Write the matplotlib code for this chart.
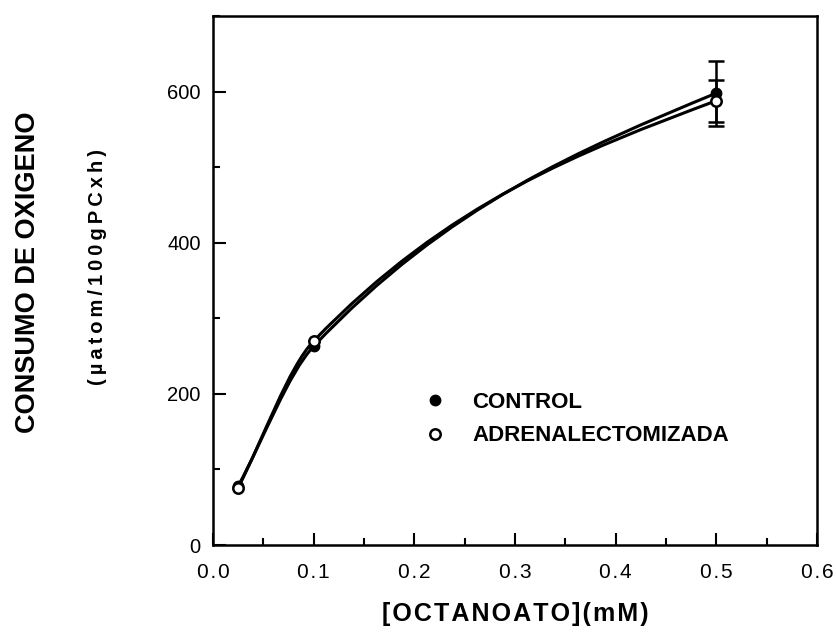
import numpy as np
import matplotlib
matplotlib.use("Agg")
import matplotlib.pyplot as plt
from matplotlib.path import Path
from matplotlib.patches import PathPatch
from matplotlib.lines import Line2D
from matplotlib.ticker import MultipleLocator, FuncFormatter

plt.rcParams["font.family"] = ["Liberation Sans", "DejaVu Sans"]

# data
octanoato = [0.025, 0.1, 0.5]
control = [78, 263, 598]
control_err = [0, 0, 43]
adrenal = [76, 270, 588]
adrenal_err = [0, 0, 28]


def spaced(s, gap="\u200a"):
    return gap.join(s)


def smooth_path(x, y):
    # cubic Hermite through the points (harmonic-mean tangents inside)
    x = np.asarray(x, float)
    y = np.asarray(y, float)
    h = np.diff(x)
    d = np.diff(y) / h
    m = np.zeros_like(y)
    for k in range(1, len(x) - 1):
        w1 = 2 * h[k] + h[k - 1]
        w2 = h[k] + 2 * h[k - 1]
        m[k] = (w1 + w2) / (w1 / d[k - 1] + w2 / d[k])
    m[0] = d[0]
    m[-1] = (3 * d[-1] - m[-2]) / 2
    verts = [(x[0], y[0])]
    codes = [Path.MOVETO]
    for k in range(len(x) - 1):
        verts += [(x[k] + h[k] / 3, y[k] + m[k] * h[k] / 3),
                  (x[k + 1] - h[k] / 3, y[k + 1] - m[k + 1] * h[k] / 3),
                  (x[k + 1], y[k + 1])]
        codes += [Path.CURVE4] * 3
    return Path(verts, codes)


fig = plt.figure(figsize=(8.37, 6.43), dpi=100)
ax = fig.add_axes([0.2545, 0.1524, 0.976 - 0.2545, 0.975 - 0.1524])

for ys in (control, adrenal):
    ax.add_patch(PathPatch(smooth_path(octanoato, ys), fill=False,
                           edgecolor="black", lw=2.2, zorder=2))

for ys, err in ((control, control_err), (adrenal, adrenal_err)):
    idx = [i for i, e in enumerate(err) if e > 0]
    ax.errorbar([octanoato[i] for i in idx], [ys[i] for i in idx],
                yerr=[err[i] for i in idx], fmt="none", ecolor="black",
                elinewidth=1.8, capsize=6, capthick=1.8, zorder=3)

ax.plot(octanoato, control, "o", color="black", ms=7.5, zorder=4)
ax.plot(octanoato, adrenal, "o", mfc="white", mec="black", mew=1.8, ms=7.5, zorder=5)

ax.set_xlim(0, 0.6)
ax.set_ylim(0, 700)
ax.xaxis.set_major_locator(MultipleLocator(0.1))
ax.xaxis.set_minor_locator(MultipleLocator(0.05))
ax.yaxis.set_minor_locator(MultipleLocator(100))
ax.set_yticks([0, 200, 400, 600])
ax.tick_params(which="both", direction="in", width=1.5)
ax.tick_params(which="major", length=9)
ax.tick_params(which="minor", length=5)
ax.tick_params(axis="y", labelsize=14.5, pad=9)
ax.tick_params(axis="x", labelsize=15, pad=13)
ax.xaxis.set_major_formatter(FuncFormatter(lambda v, p: spaced(f"{v:.1f}")))
for s in ax.spines.values():
    s.set_linewidth(1.8)

ax.set_xlabel(spaced("[OCTANOATO](mM)"), fontsize=18, fontweight="bold",
              labelpad=14)
fig.text(0.033, 0.577, "CONSUMO DE OXIGENO", rotation=90, fontsize=19.5,
         fontweight="bold", ha="center", va="center")
fig.text(0.117, 0.585, spaced("(\u00b5atom/100gPCxh)", "\u2009"), rotation=90,
         fontsize=14.5, fontweight="bold", ha="center", va="center")

handles = [Line2D([], [], ls="none", marker="o", color="black", ms=7.5),
           Line2D([], [], ls="none", marker="o", mfc="white", mec="black",
                  mew=1.8, ms=7.5)]
ax.legend(handles, ["CONTROL", "ADRENALECTOMIZADA"], loc="upper left",
          bbox_to_anchor=(0.312, 0.31), frameon=False, handletextpad=0.7,
          labelspacing=0.55, borderpad=0,
          prop={"weight": "bold", "size": 16})

fig.savefig("out.png", dpi=100)
